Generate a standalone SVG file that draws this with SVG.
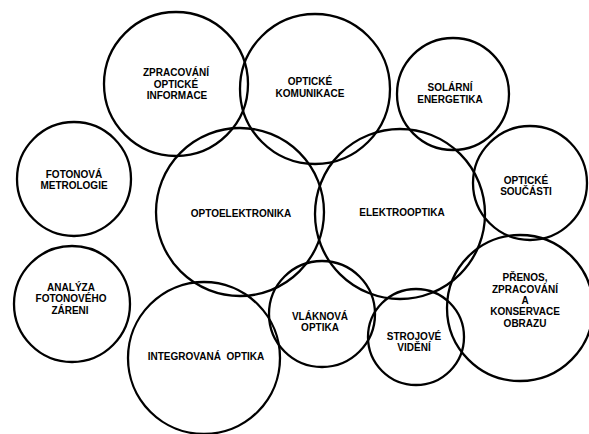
<svg xmlns="http://www.w3.org/2000/svg" width="589" height="434" viewBox="0 0 589 434">
<style>
.c{fill:none;stroke:#000;stroke-width:2.3}
.t{font-family:"Liberation Sans",Arial,sans-serif;font-weight:bold;font-size:10px;text-anchor:middle;fill:#000;white-space:pre}
</style>
<rect width="589" height="434" fill="#fff"/>
<g id="connectors"></g>
<g id="zpracovani"><circle class="c" cx="176" cy="84" r="72"/><text class="t" x="176" y="76">ZPRACOVÁNÍ</text><text class="t" x="176" y="88">OPTICKÉ</text><text class="t" x="177" y="99">INFORMACE</text></g>
<g id="komunikace"><circle class="c" cx="315" cy="89" r="75"/><text class="t" x="310" y="85">OPTICKÉ</text><text class="t" x="310" y="97">KOMUNIKACE</text></g>
<g id="solarni"><circle class="c" cx="453" cy="94" r="56"/><text class="t" x="450" y="91">SOLÁRNÍ</text><text class="t" x="450" y="103">ENERGETIKA</text></g>
<g id="soucasti"><circle class="c" cx="530" cy="183" r="57"/><text class="t" x="526" y="184">OPTICKÉ</text><text class="t" x="526" y="195">SOUČÁSTI</text></g>
<g id="metrologie"><circle class="c" cx="74" cy="179" r="57"/><text class="t" x="74" y="178">FOTONOVÁ</text><text class="t" x="74" y="189">METROLOGIE</text></g>
<g id="optoelektronika"><circle class="c" cx="240" cy="212" r="84"/><text class="t" x="241" y="217">OPTOELEKTRONIKA</text></g>
<g id="elektrooptika"><circle class="c" cx="400" cy="214" r="85"/><text class="t" x="402" y="216">ELEKTROOPTIKA</text></g>
<g id="analyza"><circle class="c" cx="72" cy="304" r="58"/><text class="t" x="71" y="291">ANALÝZA</text><text class="t" x="71" y="302">FOTONOVÉHO</text><text class="t" x="70" y="314">ZÁRENI</text></g>
<g id="integrovana"><circle class="c" cx="204" cy="358" r="76"/><text class="t" x="206" y="360">INTEGROVANÁ  OPTIKA</text></g>
<g id="vlaknova"><circle class="c" cx="322" cy="314" r="53"/><text class="t" x="320" y="320">VLÁKNOVÁ</text><text class="t" x="320" y="331">OPTIKA</text></g>
<g id="strojove"><circle class="c" cx="416" cy="337" r="48"/><text class="t" x="414" y="340">STROJOVÉ</text><text class="t" x="414" y="351">VIDĚNÍ</text></g>
<g id="prenos"><circle class="c" cx="520" cy="308" r="73"/><text class="t" x="525" y="281">PŘENOS,</text><text class="t" x="525" y="293">ZPRACOVÁNÍ</text><text class="t" x="525" y="304">A</text><text class="t" x="525" y="315">KONSERVACE</text><text class="t" x="525" y="327">OBRAZU</text></g>
</svg>
